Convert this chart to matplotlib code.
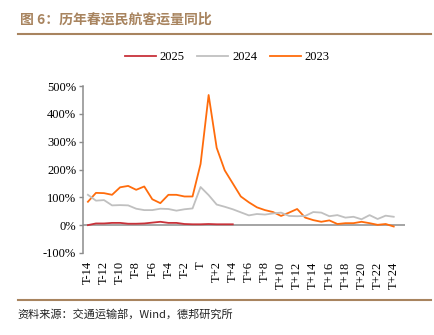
import numpy as np
import matplotlib
matplotlib.use('Agg')
import matplotlib.pyplot as plt
from matplotlib.lines import Line2D

# x categories: T-14 ... T+25
days = ['T' + ('%+d' % d if d != 0 else '') for d in range(-14, 26)]

# YoY growth (%)
y2025 = [0, 6, 6, 8, 8, 5, 5, 6, 9, 12, 8, 8, 4, 3, 3, 4, 3, 3, 3]
y2024 = [109, 88, 90, 71, 72, 71, 59, 54, 54, 59, 58, 52, 57, 60, 137, 108, 74, 66, 57, 46,
         35, 40, 38, 42, 45, 33, 32, 33, 47, 45, 32, 36, 27, 30, 21, 36, 22, 34, 30]
y2023 = [84, 116, 115, 109, 136, 141, 127, 139, 93, 79, 109, 109, 103, 103, 220, 468, 278, 197, 150, 103,
         82, 64, 54, 47, 33, 45, 58, 27, 18, 12, 17, 4, 7, 7, 12, 7, 1, 4, -5]

c_red = '#c8323a'
c_gray = '#c0c0c0'
c_orange = '#ff6c0c'
brown = '#a8845f'

fig = plt.figure(figsize=(4.35, 3.35), dpi=100)
ax = fig.add_axes([0.191, 0.245, 0.740, 0.498])

x = np.arange(len(days))
ax.plot(x[:len(y2025)], y2025, color=c_red, lw=1.3, label='2025', zorder=4)
ax.plot(x[:len(y2024)], y2024, color=c_gray, lw=1.3, label='2024', zorder=3)
ax.plot(x[:len(y2023)], y2023, color=c_orange, lw=1.3, label='2023', zorder=2)
ax.axhline(0, color='#8c8c8c', lw=1.1, zorder=1)

ax.set_xlim(-0.6, 39.4)
ax.set_ylim(-100, 500)
ax.set_yticks(range(-100, 501, 100))
ax.set_yticklabels(['%d%%' % v for v in range(-100, 501, 100)],
                   fontfamily='Liberation Serif', fontsize=9)
ax.set_xticks(x[::2])
ax.set_xticklabels(days[::2], rotation=90, fontfamily='Liberation Serif', fontsize=9)
ax.tick_params(axis='x', length=0, pad=6)
ax.tick_params(axis='y', length=3, color='#8c8c8c', width=1, pad=2)
for s in ['top', 'right', 'bottom']:
    ax.spines[s].set_visible(False)
ax.spines['left'].set_color('#8c8c8c')
ax.spines['left'].set_linewidth(1.1)

leg = fig.legend(handles=[Line2D([], [], color=c, lw=1.3) for c in (c_red, c_gray, c_orange)],
                 labels=['2025', '2024', '2023'], loc='center', bbox_to_anchor=(0.522, 0.83),
                 ncol=3, frameon=False, prop={'family': 'Liberation Serif', 'size': 9},
                 handlelength=2.5, columnspacing=1.0, handletextpad=0.3)

# title and footer
fig.text(0.046, 0.94, '图 6：历年春运民航客运量同比', fontsize=10, fontweight='bold',
         color=brown, family=['Noto Sans CJK SC', 'DejaVu Sans'], va='center')
fig.add_artist(Line2D([0.041, 0.99], [0.898, 0.898], color=brown, lw=1.5))
fig.add_artist(Line2D([0.041, 0.99], [0.103, 0.103], color=brown, lw=1.5))
fig.text(0.041, 0.062, '资料来源：交通运输部，Wind，德邦研究所', fontsize=8,
         color='#222222', family=['Noto Sans CJK SC', 'DejaVu Sans'], va='center')

fig.savefig('out.png', dpi=100)
